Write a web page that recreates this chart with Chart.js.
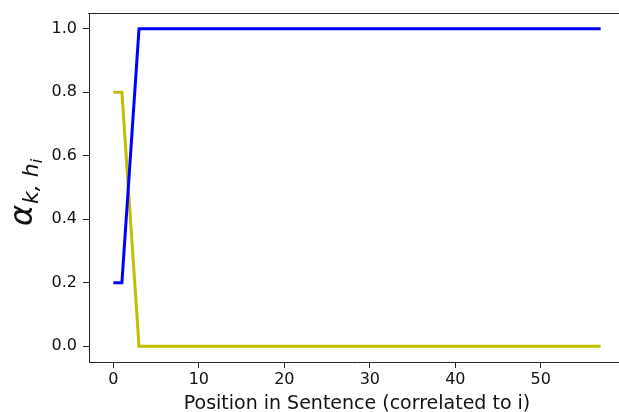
<!DOCTYPE html>
<html>
<head>
<meta charset="utf-8">
<script src="https://cdn.jsdelivr.net/npm/chart.js@4/dist/chart.umd.min.js"></script>
<style>
html,body{margin:0;padding:0;background:#fff;overflow:hidden;width:619px;height:412px;}
#wrap{position:absolute;left:0;top:0;width:640px;height:412px;}
canvas{display:block;}
</style>
</head>
<body>
<div id="wrap"><canvas id="c" width="640" height="412" style="width:640px;height:412px"></canvas></div>
<script>
const positions = [0,1,2,3,4,5,6,7,8,9,10,11,12,13,14,15,16,17,18,19,20,21,22,23,24,25,26,27,28,29,30,31,32,33,34,35,36,37,38,39,40,41,42,43,44,45,46,47,48,49,50,51,52,53,54,55,56,57];
const blueSeries = [0.2,0.2,0.6,1,1,1,1,1,1,1,1,1,1,1,1,1,1,1,1,1,1,1,1,1,1,1,1,1,1,1,1,1,1,1,1,1,1,1,1,1,1,1,1,1,1,1,1,1,1,1,1,1,1,1,1,1,1,1];
const yellowSeries = [0.8,0.8,0.4,0,0,0,0,0,0,0,0,0,0,0,0,0,0,0,0,0,0,0,0,0,0,0,0,0,0,0,0,0,0,0,0,0,0,0,0,0,0,0,0,0,0,0,0,0,0,0,0,0,0,0,0,0,0,0];
const xTicks = [0,10,20,30,40,50];
const yTicks = [0.0,0.2,0.4,0.6,0.8,1.0];
const xTitle = "Position in Sentence (correlated to i)";

const toPts = (vals) => positions.map((p,i)=>({x:p,y:vals[i]}));

const frame = {
  id:'frame',
  afterDraw(chart){
    const {ctx, chartArea:a} = chart;
    ctx.save();
    ctx.strokeStyle = '#222';
    ctx.lineWidth = 1;
    ctx.beginPath();
    ctx.moveTo(Math.round(a.left)-1, Math.round(a.top)+0.5);
    ctx.lineTo(chart.width, Math.round(a.top)+0.5);
    ctx.stroke();
    // x title
    ctx.fillStyle = '#111';
    ctx.font = '19px "DejaVu Sans"';
    ctx.textAlign = 'center';
    ctx.textBaseline = 'alphabetic';
    ctx.fillText(xTitle, (a.left+a.right)/2, 409);
    // y title: alpha_{k, h_i}
    ctx.translate(24, 193);
    ctx.rotate(-Math.PI/2);
    ctx.textAlign = 'left';
    const f1 = 'italic 32px "DejaVu Sans"', f2 = 'italic 22px "DejaVu Sans"', f3 = 'italic 16px "DejaVu Sans"';
    ctx.font = f1; const wA = ctx.measureText('α').width;
    ctx.font = f2; const wK = ctx.measureText('k, h').width;
    ctx.font = f3; const wI = ctx.measureText('i').width;
    let x = -(wA+wK+wI)/2;
    const base = 8;
    ctx.font = f1; ctx.fillText('α', x, base); x += wA + 1;
    ctx.font = f2; ctx.fillText('k, h', x, base+6); x += wK;
    ctx.font = f3; ctx.fillText('i', x, base+10);
    ctx.restore();
  }
};

new Chart(document.getElementById('c'), {
  type:'line',
  data:{
    datasets:[
      {data:toPts(blueSeries), borderColor:'#0000ff', borderWidth:3, pointRadius:0, tension:0, fill:false},
      {data:toPts(yellowSeries), borderColor:'#bfbf00', borderWidth:3, pointRadius:0, tension:0, fill:false}
    ]
  },
  options:{
    responsive:false,
    animation:false,
    devicePixelRatio:1,
    layout:{padding:{left:0,top:13,right:15,bottom:0}},
    plugins:{legend:{display:false},tooltip:{enabled:false}},
    scales:{
      x:{
        type:'linear', min:-2.85, max:59.85,
        afterBuildTicks(s){ s.ticks = xTicks.map(v=>({value:v})); },
        afterFit(s){ s.height = 50; s.paddingLeft = 0; s.paddingRight = 0; },
        grid:{display:true, drawOnChartArea:false, tickLength:6, tickColor:'#222', tickWidth:1},
        border:{display:true, color:'#222', width:1},
        ticks:{color:'#111', padding:2, maxRotation:0, autoSkip:false, font:{family:'DejaVu Sans', size:16}, callback:(v)=>String(v)}
      },
      y:{
        type:'linear', min:-0.05, max:1.05,
        afterBuildTicks(s){ s.ticks = yTicks.map(v=>({value:v})); },
        afterFit(s){ s.width = 89; s.paddingTop = 0; s.paddingBottom = 0; },
        grid:{display:true, drawOnChartArea:false, tickLength:6, tickColor:'#222', tickWidth:1},
        border:{display:true, color:'#222', width:1},
        ticks:{color:'#111', padding:6, autoSkip:false, font:{family:'DejaVu Sans', size:16}, callback:(v)=>Number(v).toFixed(1)}
      }
    }
  },
  plugins:[frame]
});
</script>
</body>
</html>
